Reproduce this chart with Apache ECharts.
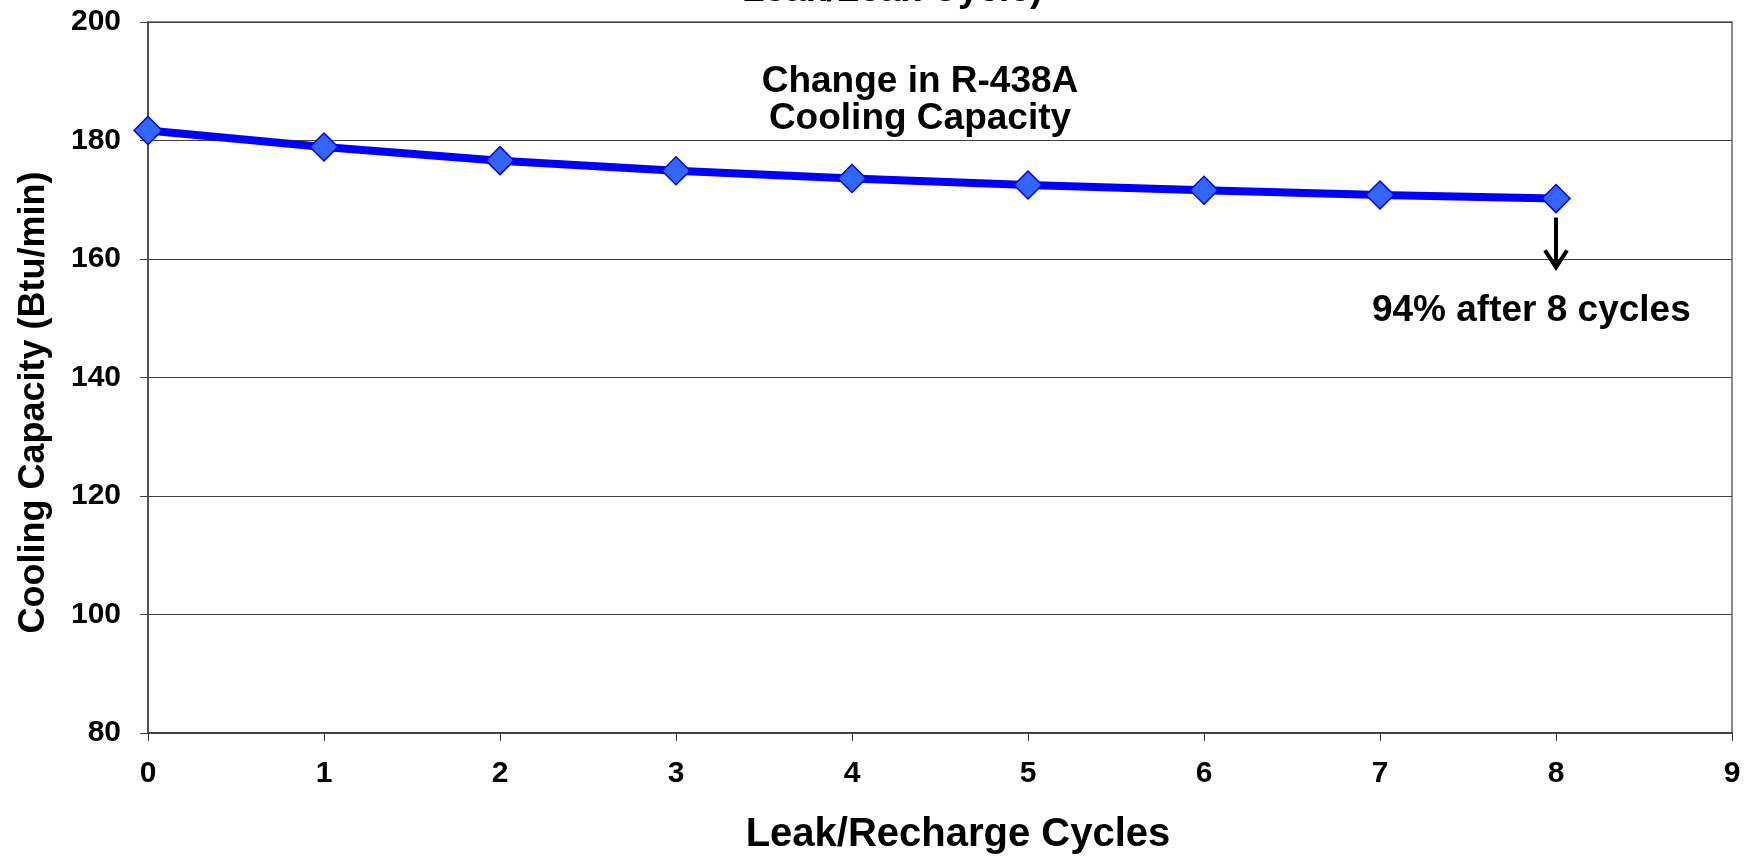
<!DOCTYPE html>
<html>
<head>
<meta charset="utf-8">
<title>R-438A Cooling Capacity</title>
<script src="https://cdn.jsdelivr.net/npm/echarts@6/dist/echarts.min.js"></script>
<style>
  html, body { margin: 0; padding: 0; background: #fff; }
  #chart { width: 1750px; height: 857px; }
</style>
</head>
<body>
<div id="chart"></div>
<script>
const cycles = [0, 1, 2, 3, 4, 5, 6, 7, 8];
const capacity = [181.7, 178.9, 176.6, 174.9, 173.6, 172.5, 171.6, 170.8, 170.2];
const yTicks = [80, 100, 120, 140, 160, 180, 200];
const xTicks = [0, 1, 2, 3, 4, 5, 6, 7, 8, 9];

const FONT = "'Liberation Sans', Arial, sans-serif";

const chart = echarts.init(document.getElementById("chart"));

chart.setOption({
  animation: false,
  backgroundColor: "#fff",
  grid: {
    left: 148, right: 18, top: 22, bottom: 124,
    outerBoundsMode: "none",
    show: true, borderColor: "#8c8c8c", borderWidth: 2
  },
  xAxis: {
    type: "value",
    min: xTicks[0],
    max: xTicks[xTicks.length - 1],
    interval: 1,
    name: "Leak/Recharge Cycles",
    nameLocation: "middle",
    nameGap: 82,
    nameTextStyle: { fontFamily: FONT, fontWeight: "bold", fontSize: 40, color: "#000", padding: [0, 0, 0, 36] },
    axisLine: { lineStyle: { color: "#404040", width: 2 } },
    axisTick: { show: true, length: 8, lineStyle: { color: "#404040", width: 1 } },
    axisLabel: { fontFamily: FONT, fontWeight: "bold", fontSize: 30, color: "#000", margin: 26 },
    splitLine: { show: false }
  },
  yAxis: {
    type: "value",
    min: yTicks[0],
    max: yTicks[yTicks.length - 1],
    interval: 20,
    name: "Cooling Capacity (Btu/min)",
    nameLocation: "middle",
    nameGap: 96,
    nameRotate: 90,
    nameTextStyle: { fontFamily: FONT, fontWeight: "bold", fontSize: 36, color: "#000", padding: [0, 50, 0, 0] },
    axisLine: { show: true, lineStyle: { color: "#404040", width: 1.5 } },
    axisTick: { show: true, length: 8, inside: false, lineStyle: { color: "#404040", width: 1 } },
    axisLabel: { fontFamily: FONT, fontWeight: "bold", fontSize: 30, color: "#000", margin: 27 },
    splitLine: { show: true, lineStyle: { color: "#404040", width: 1 } }
  },
  series: [{
    type: "line",
    data: cycles.map((c, i) => [c, capacity[i]]),
    symbol: "diamond",
    symbolSize: 28,
    lineStyle: { color: "#0000ff", width: 8 },
    itemStyle: { color: "#3366ff", borderColor: "#0000ff", borderWidth: 1.5 },
    z: 5
  }]
});

function place() {
  const top = chart.convertToPixel({ gridIndex: 0 }, [8, 167.0]);
  const bot = chart.convertToPixel({ gridIndex: 0 }, [8, 158.6]);
  const lbl = chart.convertToPixel({ gridIndex: 0 }, [7.86, 151.3]);
  chart.setOption({
    graphic: [
      {
        type: "text", left: 742, top: -28,
        style: { text: "Leak/Leak Cycle)", font: "bold 37px " + FONT, fill: "#000" }
      },
      {
        type: "text", x: 920, y: 100,
        style: {
          text: "Change in R-438A\nCooling Capacity", font: "bold 37px " + FONT,
          fill: "#000", align: "center", verticalAlign: "middle", lineHeight: 37
        }
      },
      {
        type: "line",
        shape: { x1: top[0], y1: top[1], x2: bot[0], y2: bot[1] },
        style: { stroke: "#000", lineWidth: 4 }
      },
      {
        type: "polyline",
        shape: { points: [[bot[0] - 11, bot[1] - 17], [bot[0], bot[1]], [bot[0] + 11, bot[1] - 17]] },
        style: { stroke: "#000", lineWidth: 4, fill: null }
      },
      {
        type: "text", x: lbl[0], y: lbl[1],
        style: {
          text: "94% after 8 cycles", font: "bold 37px " + FONT,
          fill: "#000", align: "center", verticalAlign: "middle"
        }
      }
    ]
  });
}
place();
</script>
</body>
</html>
